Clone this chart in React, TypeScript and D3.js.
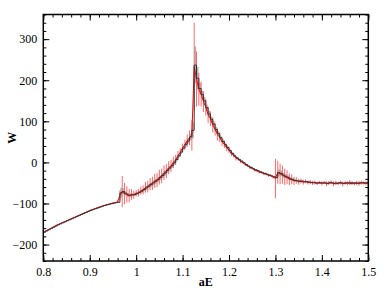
import React, { useRef, useEffect } from "react";
import * as d3 from "d3";

// energy grid (aE)
const xValues = [
  0.8, 0.805, 0.81, 0.815, 0.82, 0.825, 0.83, 0.835, 0.84, 0.845,
  0.85, 0.855, 0.86, 0.865, 0.87, 0.875, 0.88, 0.885, 0.89, 0.895,
  0.9, 0.905, 0.91, 0.915, 0.92, 0.925, 0.93, 0.935, 0.94, 0.945,
  0.95, 0.955, 0.96, 0.965, 0.97, 0.975, 0.98, 0.985, 0.99, 0.995,
  1.0, 1.005, 1.01, 1.015, 1.02, 1.025, 1.03, 1.035, 1.04, 1.045,
  1.05, 1.055, 1.06, 1.065, 1.07, 1.075, 1.08, 1.085, 1.09, 1.095,
  1.1, 1.105, 1.11, 1.115, 1.12, 1.125, 1.13, 1.135, 1.14, 1.145,
  1.15, 1.155, 1.16, 1.165, 1.17, 1.175, 1.18, 1.185, 1.19, 1.195,
  1.2, 1.205, 1.21, 1.215, 1.22, 1.225, 1.23, 1.235, 1.24, 1.245,
  1.25, 1.255, 1.26, 1.265, 1.27, 1.275, 1.28, 1.285, 1.29, 1.295,
  1.3, 1.305, 1.31, 1.315, 1.32, 1.325, 1.33, 1.335, 1.34, 1.345,
  1.35, 1.355, 1.36, 1.365, 1.37, 1.375, 1.38, 1.385, 1.39, 1.395,
  1.4, 1.405, 1.41, 1.415, 1.42, 1.425, 1.43, 1.435, 1.44, 1.445,
  1.45, 1.455, 1.46, 1.465, 1.47, 1.475, 1.48, 1.485, 1.49, 1.495,
  1.5,
];

// black (stepped) series
const blackW = [
  -170, -167, -164, -161, -158, -155, -152, -149.5, -147, -144.5,
  -142, -139.5, -137, -134.5, -132, -129.5, -127, -124.5, -122, -119.5,
  -117, -115, -113, -111, -109, -107, -105, -103.5, -102, -100.5,
  -99, -98, -97, -74, -71, -75, -79, -80, -79, -78,
  -76, -73, -70, -66, -62, -58, -54, -50, -46, -42,
  -37, -32, -26, -20, -14, -8, -1, 7, 16, 25,
  35, 44, 52, 62, 78, 237, 205, 180, 165, 150,
  133, 118, 105, 93, 80, 70, 60, 51, 43, 36,
  29, 22, 16, 11, 7, 3, -1, -5, -9, -12,
  -15, -18, -20, -23, -25, -27, -29, -31, -33, -35,
  -37, -25, -27, -31, -34, -37, -40, -42, -44, -45,
  -46, -46, -47, -47, -48, -49, -49, -50, -50, -50,
  -50, -50, -51, -50, -50, -51, -51, -50, -50, -51,
  -50, -50, -51, -50, -50, -51, -50, -50, -50, -50,
  -50,
];

const blackErr = [
  0, 0, 0, 0, 0, 0, 0, 0, 0, 0,
  0, 0, 0, 0, 0, 0, 0, 0, 0, 0,
  0, 0, 0, 0, 0, 0, 0, 0, 0, 0,
  0, 1, 2, 12, 8, 5, 5, 4, 4, 4,
  3, 3, 4, 4, 5, 5, 5, 6, 6, 6,
  6, 6, 6, 5, 5, 5, 5, 5, 4, 4,
  4, 5, 6, 8, 20, 45, 28, 14, 10, 9,
  8, 8, 7, 7, 6, 6, 5, 5, 4, 4,
  3, 3, 3, 2, 2, 2, 2, 2, 2, 2,
  2, 2, 2, 2, 2, 2, 2, 2, 2, 2,
  2, 8, 7, 6, 5, 5, 4, 4, 3, 3,
  3, 3, 2, 2, 2, 2, 2, 2, 2, 2,
  2, 2, 2, 2, 2, 2, 2, 2, 2, 2,
  2, 2, 2, 2, 2, 2, 2, 2, 2, 2,
  2,
];

// red series with error bars
const redW = [
  -170, -167, -164, -161, -158, -155, -152, -149.5, -147, -144.5,
  -142, -139.5, -137, -134.5, -132, -129.5, -127, -124.5, -122, -119.5,
  -117, -115, -113, -111, -109, -107, -105, -103.5, -102, -100.5,
  -99, -98, -96, -80, -71, -76, -78, -81, -78, -79,
  -75, -74, -69, -67, -61, -59, -53, -51, -45, -43,
  -36, -33, -25, -21, -13, -9, 0, 6, 17, 24,
  36, 43, 53, 60, 66, 233, 203, 178, 166, 148,
  134, 116, 106, 91, 81, 68, 61, 50, 44, 35,
  30, 21, 17, 10, 8, 2, 0, -6, -8, -13,
  -14, -19, -20, -24, -24, -28, -28, -32, -32, -36,
  -39, -24, -28, -30, -35, -36, -41, -41, -45, -44,
  -47, -45, -48, -46, -49, -48, -50, -49, -51, -49,
  -51, -49, -52, -50, -48, -52, -50, -51, -49, -52,
  -50, -51, -49, -50, -52, -50, -51, -49, -50, -51,
  -50,
];

const redErr = [
  1, 1, 1, 1, 1, 1, 1, 1, 1, 1,
  1, 1, 1, 1, 1, 1, 1, 1, 1, 1,
  1, 1, 1, 1, 1, 1, 1, 1, 1, 2,
  2, 2, 3, 12, 38, 26, 20, 16, 13, 10,
  8, 9, 10, 11, 13, 14, 15, 16, 17, 17,
  18, 18, 18, 17, 16, 15, 14, 12, 11, 10,
  10, 12, 15, 18, 37, 107, 67, 40, 30, 25,
  20, 20, 18, 18, 16, 15, 12, 10, 9, 8,
  7, 6, 5, 5, 4, 4, 4, 3, 3, 3,
  3, 3, 3, 3, 3, 3, 3, 3, 3, 3,
  48, 28, 25, 22, 20, 17, 14, 12, 10, 8,
  7, 6, 6, 5, 5, 5, 5, 5, 4, 4,
  5, 4, 6, 5, 4, 6, 5, 4, 5, 6,
  4, 5, 6, 5, 4, 5, 6, 5, 4, 5,
  5,
];

const xMajor = [0.8, 0.9, 1.0, 1.1, 1.2, 1.3, 1.4, 1.5];
const xLabels = ["0.8", "0.9", "1", "1.1", "1.2", "1.3", "1.4", "1.5"];
const yMajor = [-200, -100, 0, 100, 200, 300];

const FONT = "'Liberation Serif', 'Times New Roman', Times, serif";

const App = () => {
  const svgRef = useRef<SVGSVGElement | null>(null);

  useEffect(() => {
    const width = 387;
    const height = 299;
    const margin = { top: 14.5, right: 18.7, bottom: 38, left: 43.3 };
    const innerWidth = width - margin.left - margin.right;
    const innerHeight = height - margin.top - margin.bottom;

    d3.select(svgRef.current).selectAll("*").remove();
    const svg = d3
      .select(svgRef.current)
      .attr("width", width)
      .attr("height", height)
      .style("font-family", FONT);
    const chart = svg.append("g").attr("transform", `translate(${margin.left},${margin.top})`);

    const x = d3.scaleLinear().domain([0.8, 1.5]).range([0, innerWidth]);
    const y = d3.scaleLinear().domain([-240, 360]).range([innerHeight, 0]);

    const xMinor = d3.range(0.8, 1.5001, 0.02);
    const yMinor = d3.range(-240, 360.001, 20);

    const clip = chart.append("clipPath").attr("id", "plotclip");
    clip.append("rect").attr("width", innerWidth).attr("height", innerHeight);
    const plot = chart.append("g").attr("clip-path", "url(#plotclip)");

    const black = xValues.map((v, i) => ({ x: v, w: blackW[i], e: blackErr[i] }));
    const red = xValues.map((v, i) => ({ x: v, w: redW[i], e: redErr[i] }));

    // gray error bars of black series
    plot
      .selectAll("line.berr")
      .data(black.filter((d) => d.e > 0))
      .join("line")
      .attr("x1", (d) => x(d.x + 0.0025))
      .attr("x2", (d) => x(d.x + 0.0025))
      .attr("y1", (d) => y(d.w - d.e))
      .attr("y2", (d) => y(d.w + d.e))
      .attr("stroke", "#b0b0b0")
      .attr("stroke-width", 1.5);

    // red error bars
    plot
      .selectAll("line.rerr")
      .data(red)
      .join("line")
      .attr("x1", (d) => x(d.x))
      .attr("x2", (d) => x(d.x))
      .attr("y1", (d) => y(d.w - d.e))
      .attr("y2", (d) => y(d.w + d.e))
      .attr("stroke", "#ff2020")
      .attr("stroke-opacity", 0.85)
      .attr("stroke-width", 0.8);

    plot
      .append("path")
      .datum(red)
      .attr("fill", "none")
      .attr("stroke", "#ff0000")
      .attr("stroke-width", 1)
      .attr("d", d3.line<any>().x((d) => x(d.x)).y((d) => y(d.w)));

    plot
      .append("path")
      .datum(black)
      .attr("fill", "none")
      .attr("stroke", "#333")
      .attr("stroke-width", 1)
      .attr("d", d3.line<any>().x((d) => x(d.x)).y((d) => y(d.w)).curve(d3.curveStepAfter));

    const styleAxis = (g: any) => {
      g.attr("font-family", null).attr("font-size", null);
      g.select(".domain").remove();
      g.selectAll("line").attr("stroke", "#000").attr("stroke-width", 1);
      g.selectAll("text").attr("fill", "#000").style("font-size", "12px");
    };

    // bottom
    chart
      .append("g")
      .attr("transform", `translate(0,${innerHeight})`)
      .call(d3.axisBottom(x).tickValues(xMinor).tickSize(-3).tickFormat(() => ""))
      .call(styleAxis);
    chart
      .append("g")
      .attr("transform", `translate(0,${innerHeight})`)
      .call(
        d3.axisBottom(x).tickValues(xMajor).tickSize(-6).tickPadding(6)
          .tickFormat((d, i) => xLabels[i])
      )
      .call(styleAxis);
    // top
    chart.append("g").call(d3.axisTop(x).tickValues(xMinor).tickSize(-3).tickFormat(() => "")).call(styleAxis);
    chart.append("g").call(d3.axisTop(x).tickValues(xMajor).tickSize(-6).tickFormat(() => "")).call(styleAxis);
    // left
    chart.append("g").call(d3.axisLeft(y).tickValues(yMinor).tickSize(-3).tickFormat(() => "")).call(styleAxis);
    chart
      .append("g")
      .call(d3.axisLeft(y).tickValues(yMajor).tickSize(-6).tickPadding(6).tickFormat(d3.format("d")))
      .call(styleAxis);
    // right
    chart
      .append("g")
      .attr("transform", `translate(${innerWidth},0)`)
      .call(d3.axisRight(y).tickValues(yMinor).tickSize(-3).tickFormat(() => ""))
      .call(styleAxis);
    chart
      .append("g")
      .attr("transform", `translate(${innerWidth},0)`)
      .call(d3.axisRight(y).tickValues(yMajor).tickSize(-6).tickFormat(() => ""))
      .call(styleAxis);

    // frame
    chart
      .append("rect")
      .attr("width", innerWidth)
      .attr("height", innerHeight)
      .attr("fill", "none")
      .attr("stroke", "#000")
      .attr("stroke-width", 1.5);

    chart
      .append("text")
      .attr("x", innerWidth / 2)
      .attr("y", innerHeight + 25)
      .attr("text-anchor", "middle")
      .style("font-size", "12px")
      .style("font-weight", "bold")
      .text("aE");

    svg
      .append("text")
      .attr("transform", `translate(16,${margin.top + innerHeight / 2}) rotate(-90)`)
      .attr("text-anchor", "middle")
      .style("font-size", "12px")
      .style("font-weight", "bold")
      .text("W");
  }, []);

  return (
    <div style={{ position: "absolute", left: 0, top: 0 }}>
      <svg ref={svgRef} style={{ display: "block", background: "#fff" }} />
    </div>
  );
};

export default App;
